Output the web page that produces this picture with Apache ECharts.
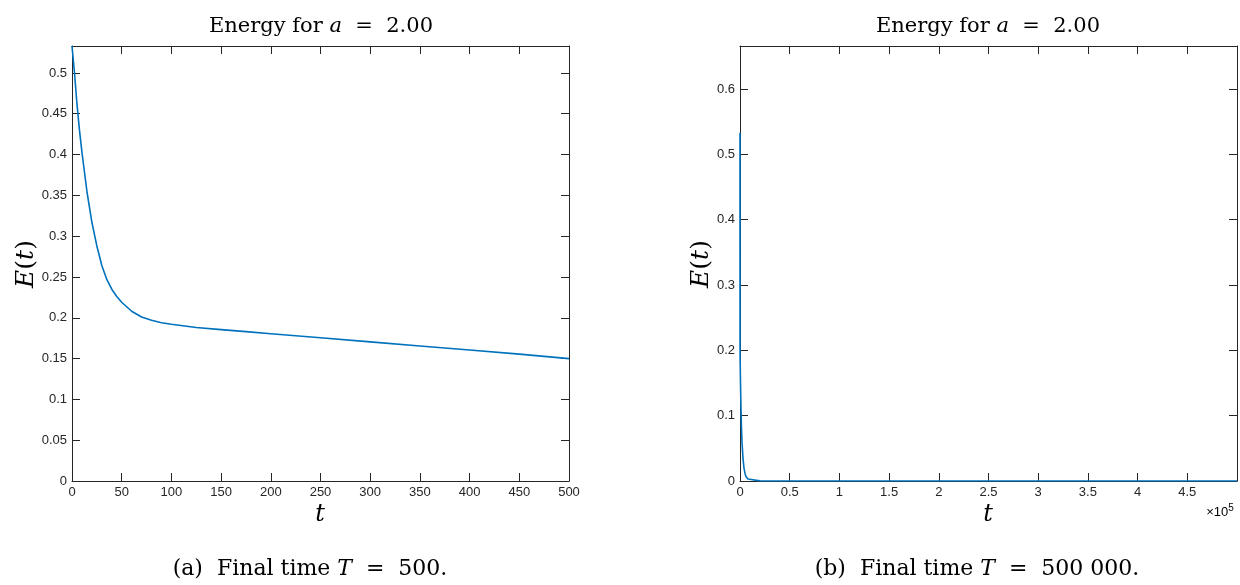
<!DOCTYPE html>
<html>
<head>
<meta charset="utf-8">
<script src="https://cdn.jsdelivr.net/npm/echarts@6/dist/echarts.min.js"></script>
<style>
html,body{margin:0;padding:0;background:#fff;}
#c{width:1240px;height:585px;}
</style>
</head>
<body>
<div id="c"></div>
<script>
// Data
const tShort = [0, 2.5, 5, 7.5, 10, 15, 20, 25, 30, 35, 40, 45, 50, 60, 70, 80, 90, 100, 125, 150, 175, 200, 250, 300, 350, 400, 450, 500];
const eShort = [0.533, 0.500, 0.462, 0.430, 0.403, 0.355, 0.317, 0.288, 0.264, 0.247, 0.235, 0.226, 0.219, 0.208, 0.201, 0.197, 0.194, 0.192, 0.188, 0.1855, 0.183, 0.1805, 0.1755, 0.1705, 0.1655, 0.1605, 0.1555, 0.150];
const tLongTail = [1000, 1500, 2000, 3000, 4000, 5000, 6000, 8000, 10000, 20000, 50000, 100000, 200000, 300000, 400000, 500000];
const eLongTail = [0.11, 0.08, 0.06, 0.035, 0.02, 0.012, 0.007, 0.003, 0.001, 0.0002, 0.00002, 0, 0, 0, 0, 0];

const shortData = tShort.map((t, i) => [t, eShort[i]]);
const longData = shortData.concat(tLongTail.map((t, i) => [t, eLongTail[i]]));

const AX = '#262626';
const SANS = 'Liberation Sans';
const LBL = {fontFamily: SANS, fontSize: 13, color: AX};
const SERIF = 'DejaVu Serif';

function baseAxis(extra) {
  return Object.assign({
    type: 'value',
    axisLine: {show: true, onZero: false, lineStyle: {color: AX, width: 1}},
    axisTick: {show: true, inside: true, length: 8, lineStyle: {color: AX, width: 1}},
    splitLine: {show: false},
  }, extra);
}

const grids = [
  {left: 72, top: 46, width: 497, height: 435},
  {left: 740, top: 46, width: 497, height: 435}
];

const xAxes = [
  baseAxis({gridIndex: 0, min: 0, max: 500, interval: 50, position: 'bottom',
    axisLabel: Object.assign({margin: 5}, LBL)}),
  baseAxis({gridIndex: 0, min: 0, max: 500, interval: 50, position: 'top', axisLabel: {show: false}}),
  baseAxis({gridIndex: 1, min: 0, max: 500000, interval: 50000, position: 'bottom',
    axisLabel: Object.assign({margin: 5, showMaxLabel: false, formatter: v => String(v / 1e5)}, LBL)}),
  baseAxis({gridIndex: 1, min: 0, max: 500000, interval: 50000, position: 'top', axisLabel: {show: false}})
];
const yAxes = [
  baseAxis({gridIndex: 0, min: 0, max: 0.533, interval: 0.05, position: 'left',
    axisLabel: Object.assign({margin: 5, showMaxLabel: false}, LBL)}),
  baseAxis({gridIndex: 0, min: 0, max: 0.533, interval: 0.05, position: 'right', axisLabel: {show: false}}),
  baseAxis({gridIndex: 1, min: 0, max: 0.666, interval: 0.1, position: 'left',
    axisLabel: Object.assign({margin: 5, showMaxLabel: false}, LBL)}),
  baseAxis({gridIndex: 1, min: 0, max: 0.666, interval: 0.1, position: 'right', axisLabel: {show: false}})
];

const lineStyle = {color: '#0072BD', width: 1.6};
const series = [
  {type: 'line', xAxisIndex: 0, yAxisIndex: 0, data: shortData, showSymbol: false, lineStyle: lineStyle, animation: false, clip: true},
  {type: 'line', xAxisIndex: 2, yAxisIndex: 2, data: longData, showSymbol: false, lineStyle: lineStyle, animation: false, clip: true}
];

function rich(size) {
  return {
    r: {fontFamily: SERIF, fontSize: size, color: '#000'},
    i: {fontFamily: SERIF, fontSize: size, fontStyle: 'italic', color: '#000'},
    s: {fontFamily: SANS, fontSize: 13, color: AX},
    sup: {fontFamily: SANS, fontSize: 10, color: AX, verticalAlign: 'top', padding: [0, 0, 8, 0]}
  };
}

function txt(x, y, text, size, rot) {
  return {
    type: 'text', x: x, y: y, rotation: rot || 0,
    style: {text: text, rich: rich(size), align: 'center', verticalAlign: 'middle'}
  };
}

const graphic = [
  txt(321, 27, '{r|Energy for }{i|a}{r|  =  2.00}', 21),
  txt(988, 27, '{r|Energy for }{i|a}{r|  =  2.00}', 21),
  txt(320, 515, '{i|t}', 24),
  txt(988, 515, '{i|t}', 24),
  txt(26, 264, '{i|E}{r|(}{i|t}{r|)}', 25, Math.PI / 2),
  txt(701, 264, '{i|E}{r|(}{i|t}{r|)}', 25, Math.PI / 2),
  txt(1220, 512, '{s|×10}{sup|5}', 13),
  txt(310, 569, '{r|(a)  Final time }{i|T}{r|  =  500.}', 22),
  txt(977, 569, '{r|(b)  Final time }{i|T}{r|  =  500 000.}', 22)
];

const chart = echarts.init(document.getElementById('c'), null, {renderer: 'canvas'});
chart.setOption({
  animation: false,
  backgroundColor: '#fff',
  grid: grids,
  xAxis: xAxes,
  yAxis: yAxes,
  series: series,
  graphic: graphic
});
</script>
</body>
</html>
